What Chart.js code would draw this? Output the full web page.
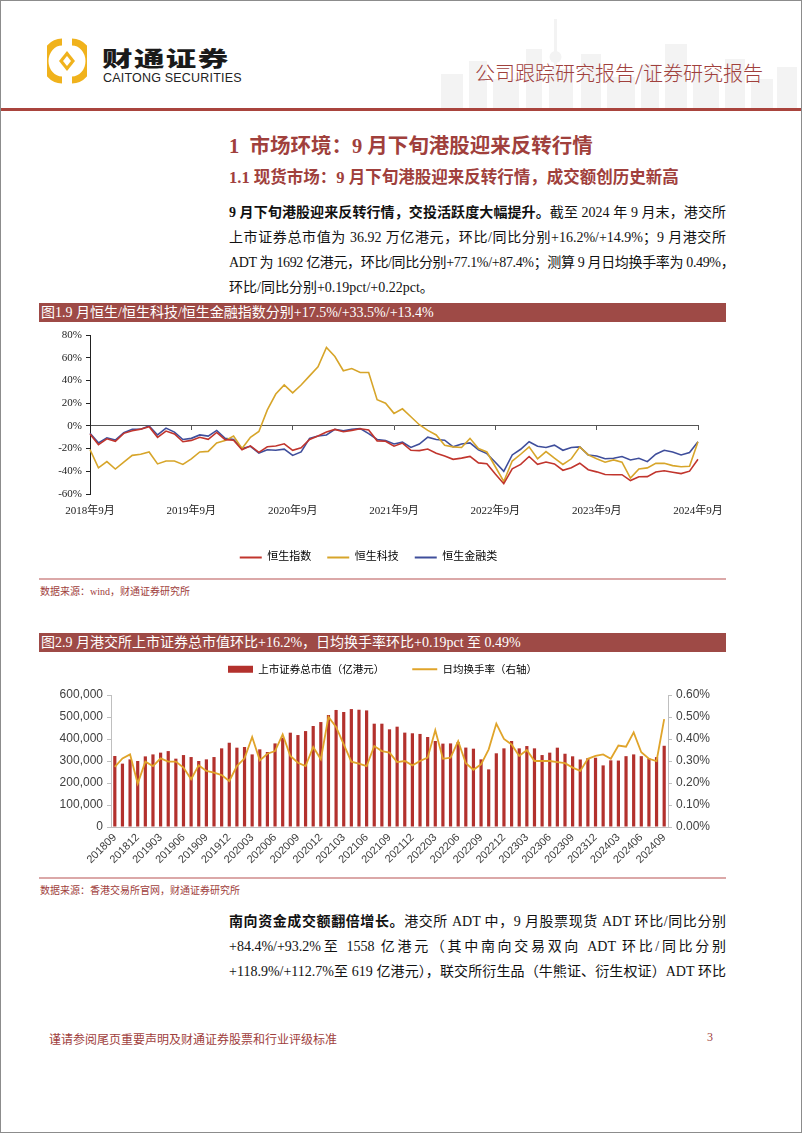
<!DOCTYPE html>
<html>
<head>
<meta charset="utf-8">
<script src="https://cdn.jsdelivr.net/npm/chart.js@4.4.1/dist/chart.umd.min.js"></script>
<style>
html, body { margin: 0; padding: 0; background: #fff; }
#page { position: relative; width: 800px; height: 1131px; border: 1px solid #8c8c8c; overflow: hidden;
  font-family: "Liberation Serif", "Noto Sans CJK SC", serif; color: #111; }
.a { position: absolute; }
.brand { left: 101px; top: 46px; font: 900 21px/1 "Noto Sans CJK SC", sans-serif; letter-spacing: 1px; color: #1a1a1a;
  transform: scaleX(1.45); transform-origin: left top; white-space: nowrap; }
.brand-en { left: 102px; top: 71px; font: 12.5px/1 "Liberation Sans", sans-serif; color: #222; letter-spacing: 0.2px; white-space: nowrap; }
.rtitle { left: 474px; top: 60px; font: 300 20px/1.2 "Noto Sans CJK SC", sans-serif; color: #a0403c; }
.redline { left: 0; top: 107px; width: 800px; height: 3px; background: #a9443d; }
.h1 { left: 228px; top: 128px; font: bold 20.5px "Liberation Serif", "Noto Sans CJK SC", serif; color: #a0403c; }
.h2 { left: 228px; top: 163px; font: bold 16.5px "Liberation Serif", "Noto Sans CJK SC", serif; color: #a0403c; }
.para { left: 228px; width: 497px; font-size: 14px; line-height: 25px; }
.para div { text-align: justify; text-align-last: justify; height: 25px; }
.para div.last { text-align-last: left; }
.para div.tight { white-space: nowrap; letter-spacing: -0.35px; }
.figbar { left: 38px; width: 685px; height: 19px; background: #9e4a46; color: #fff; font-size: 14px; line-height: 19px; padding-left: 2px; white-space: nowrap; }
.rule { left: 38px; width: 687px; height: 1.5px; background: #dba8a8; }
.src { left: 39px; font: 10px "Liberation Serif", "Noto Sans CJK SC", serif; color: #a0403c; }
.foot { left: 48px; top: 1029px; font: 12px "Liberation Serif", "Noto Sans CJK SC", serif; color: #a0403c; }
.pno { left: 706px; top: 1029px; font: 12px "Liberation Serif", serif; color: #a0403c; }
b { font-weight: bold; }
</style>
</head>
<body>
<div id="page">
  <svg class="a" style="left:430px;top:18px" width="370" height="89">
    <g fill="#f3f3f3">
      <rect x="10" y="55" width="22" height="34"/><rect x="38" y="42" width="18" height="47"/>
      <rect x="62" y="60" width="26" height="29"/><rect x="95" y="30" width="16" height="59"/>
      <rect x="118" y="50" width="24" height="39"/><rect x="123" y="0" width="3" height="50"/>
      <circle cx="124.5" cy="38" r="6"/><circle cx="124.5" cy="60" r="8"/>
      <rect x="150" y="35" width="20" height="54"/><rect x="176" y="58" width="28" height="31"/>
      <rect x="210" y="45" width="18" height="44"/><rect x="234" y="25" width="22" height="64"/>
      <rect x="262" y="52" width="26" height="37"/><rect x="294" y="40" width="20" height="49"/>
      <rect x="320" y="60" width="22" height="29"/><rect x="346" y="48" width="20" height="41"/>
    </g>
  </svg>
  <svg class="a" style="left:46px;top:37px" width="40" height="46" viewBox="0 0 40 46">
    <path d="M15 4 A17 19 0 0 0 15 42" stroke="#f0b21c" stroke-width="7" fill="none"/>
    <path d="M25 4 A17 19 0 0 1 25 42" stroke="#f0b21c" stroke-width="7" fill="none"/>
    <path d="M20 13 L28 23 L20 33 L12 23 Z" fill="#f0b21c"/>
    <path d="M20 18 L24 23 L20 28 L16 23 Z" fill="#fff"/>
  </svg>
  <div class="a brand">财通证券</div>
  <div class="a brand-en">CAITONG SECURITIES</div>
  <div class="a rtitle">公司跟踪研究报告/证券研究报告</div>
  <div class="a redline"></div>

  <div class="a h1">1&nbsp;&nbsp;市场环境：9 月下旬港股迎来反转行情</div>
  <div class="a h2">1.1 现货市场：9 月下旬港股迎来反转行情，成交额创历史新高</div>

  <div class="a para" style="top:199px">
    <div><b>9 月下旬港股迎来反转行情，交投活跃度大幅提升。</b>截至 2024 年 9 月末，港交所</div>
    <div>上市证券总市值为 36.92 万亿港元，环比/同比分别+16.2%/+14.9%；9 月港交所</div>
    <div class="tight">ADT 为 1692 亿港元，环比/同比分别+77.1%/+87.4%；测算 9 月日均换手率为 0.49%，</div>
    <div class="last">环比/同比分别+0.19pct/+0.22pct。</div>
  </div>

  <div class="a figbar" style="top:302px">图1.9 月恒生/恒生科技/恒生金融指数分别+17.5%/+33.5%/+13.4%</div>
  <div class="a" style="left:38px;top:322px;width:687px;height:243px"><canvas id="c1" width="687" height="243"></canvas></div>
  <div class="a rule" style="top:577px"></div>
  <div class="a src" style="top:582px">数据来源：wind，财通证券研究所</div>

  <div class="a figbar" style="top:632px">图2.9 月港交所上市证券总市值环比+16.2%，日均换手率环比+0.19pct 至 0.49%</div>
  <div class="a" style="left:38px;top:635px;width:687px;height:235px"><canvas id="c2" width="687" height="235"></canvas></div>
  <div class="a rule" style="top:876px"></div>
  <div class="a src" style="top:881px">数据来源：香港交易所官网，财通证券研究所</div>

  <div class="a para" style="top:908px">
    <div><b>南向资金成交额翻倍增长。</b>港交所 ADT 中，9 月股票现货 ADT 环比/同比分别</div>
    <div>+84.4%/+93.2%至 1558 亿港元（其中南向交易双向 ADT 环比/同比分别</div>
    <div>+118.9%/+112.7%至 619 亿港元），联交所衍生品（牛熊证、衍生权证）ADT 环比</div>
  </div>

  <div class="a foot">谨请参阅尾页重要声明及财通证券股票和行业评级标准</div>
  <div class="a pno">3</div>
</div>

<script>
const months = [
  '201809','201810','201811','201812',
  '201901','201902','201903','201904','201905','201906','201907','201908','201909','201910','201911','201912',
  '202001','202002','202003','202004','202005','202006','202007','202008','202009','202010','202011','202012',
  '202101','202102','202103','202104','202105','202106','202107','202108','202109','202110','202111','202112',
  '202201','202202','202203','202204','202205','202206','202207','202208','202209','202210','202211','202212',
  '202301','202302','202303','202304','202305','202306','202307','202308','202309','202310','202311','202312',
  '202401','202402','202403','202404','202405','202406','202407','202408','202409'
];
const yearTicks = ['2018年9月', '2019年9月', '2020年9月', '2021年9月', '2022年9月', '2023年9月', '2024年9月'];

// 指数累计涨跌幅（%）
const hsi = [-7.1, -16.5, -11.4, -13.6,
  -6.6, -4.3, -2.9, -0.7, -10.1, -4.6, -7.2, -14.0, -12.8, -10.1, -11.9, -5.8,
  -12.1, -12.7, -21.1, -17.6, -23.3, -18.4, -17.8, -15.8, -21.6, -19.4, -12.0, -9.0,
  -5.5, -3.1, -5.2, -4.0, -2.6, -3.6, -13.2, -13.5, -17.9, -15.2, -21.5, -21.8,
  -20.4, -24.1, -26.5, -29.5, -28.4, -26.9, -32.6, -33.3, -42.4, -50.9, -37.8, -33.9,
  -27.0, -33.9, -31.8, -33.5, -39.1, -36.8, -32.9, -38.6, -40.5, -42.8, -43.0, -43.0,
  -48.2, -44.8, -44.7, -40.6, -39.6, -40.8, -42.0, -39.9, -29.4];
const hstech = [-21, -37, -31.5, -38,
  -32, -26, -25, -23, -33.5, -31, -31, -34, -29, -23, -22.5, -15,
  -13, -9, -20, -10, -5, 14, 28, 36, 29, 36, 44, 52,
  69, 61, 48.5, 50.5, 47, 47, 23, 20, 11, 15, 8, 1,
  -4, -8, -17, -18.5, -19, -11, -20, -23, -36, -49, -31, -25,
  -18.5, -29, -22.6, -28.5, -34, -29, -18.5, -25.6, -29, -32, -30, -32,
  -46, -38, -37, -33, -33, -35, -36, -35.6, -14];
const hsfin = [-6.5, -15, -10.5, -12.5,
  -6, -3, -3, 0, -8, -2, -5.5, -12, -11, -8, -9, -4,
  -11, -12, -20, -18, -24, -21, -21.5, -20.5, -26, -23, -11, -9,
  -8, -3, -4.4, -3, -2.4, -6.8, -12, -13, -16, -14.4, -19, -16,
  -10, -12, -12.6, -18.5, -16, -15, -21, -24.4, -32, -40, -25.6, -20.6,
  -14, -18, -19, -17, -21.5, -19, -18.5, -25.6, -26.5, -29, -28.5, -27,
  -30, -28.5, -31.5, -25, -21.5, -23, -25.6, -23.5, -14];

// 上市证券总市值（亿港元）与日均换手率（%）
const mktCap = [322700, 288000, 307500, 300000,
  321000, 330000, 338000, 345000, 310600, 327000, 318000, 300000, 307500, 318000, 357500, 383000,
  360600, 363600, 330000, 353000, 341000, 380000, 406000, 428700, 418000, 436000, 459000, 477000,
  509000, 532000, 522700, 536000, 533000, 530000, 469600, 469600, 444000, 456000, 429000, 426000,
  423000, 409000, 391000, 379000, 380000, 386000, 361000, 356000, 307500, 262000, 335000, 357500,
  391000, 357500, 368000, 357500, 327000, 338000, 360600, 333000, 321300, 307000, 313000, 315000,
  280000, 303000, 302000, 322000, 330000, 322000, 312000, 317700, 369200];
const turnover = [0.273, 0.312, 0.330, 0.197,
  0.297, 0.277, 0.312, 0.297, 0.297, 0.270, 0.217, 0.280, 0.255, 0.247, 0.236, 0.209,
  0.277, 0.312, 0.409, 0.303, 0.333, 0.345, 0.421, 0.323, 0.292, 0.277, 0.364, 0.308,
  0.500, 0.455, 0.376, 0.297, 0.288, 0.277, 0.368, 0.345, 0.338, 0.295, 0.300, 0.280,
  0.300, 0.315, 0.440, 0.310, 0.315, 0.390, 0.290, 0.260, 0.285, 0.353, 0.470, 0.400,
  0.375, 0.323, 0.350, 0.300, 0.300, 0.300, 0.295, 0.290, 0.270, 0.255, 0.310, 0.323,
  0.330, 0.310, 0.370, 0.365, 0.430, 0.340, 0.310, 0.300, 0.490];

const RED = '#c1352d', GOLD = '#d7a52a', BLUE = '#3f4e9b';
const BAR = '#b3312d', TURN = '#e0a42a';
const serif = '"Liberation Serif", "Noto Sans CJK SC", serif';
const sans = '"Liberation Sans", "Noto Sans CJK SC", sans-serif';

function legendHeight(h) {
  return {
    id: 'legendHeight' + h,
    beforeInit(chart) {
      const fit = chart.legend.fit;
      chart.legend.fit = function () {
        fit.bind(chart.legend)();
        this.height = h;
      };
    }
  };
}

function lineItems(chart) {
  return chart.data.datasets.map((ds, i) => ({
    text: ds.label, datasetIndex: i, hidden: false,
    fillStyle: ds.borderColor, strokeStyle: ds.borderColor,
    lineWidth: 2, pointStyle: 'line'
  }));
}

new Chart(document.getElementById('c1'), {
  type: 'line',
  data: {
    labels: months,
    datasets: [
      { label: '恒生指数', data: hsi, borderColor: RED },
      { label: '恒生科技', data: hstech, borderColor: GOLD },
      { label: '恒生金融类', data: hsfin, borderColor: BLUE }
    ]
  },
  options: {
    responsive: false, animation: false, devicePixelRatio: 1,
    layout: { padding: { top: 12, right: 28, left: 0, bottom: 0 } },
    elements: { line: { borderWidth: 1.6, tension: 0 }, point: { radius: 0 } },
    plugins: {
      tooltip: { enabled: false },
      legend: {
        position: 'bottom',
        labels: {
          usePointStyle: true, pointStyleWidth: 22, padding: 16,
          color: '#333', font: { family: serif, size: 11 },
          generateLabels: lineItems
        }
      }
    },
    scales: {
      x: {
        offset: false,
        border: { display: false },
        grid: { display: false },
        ticks: {
          autoSkip: false, maxRotation: 0, minRotation: 0, padding: 3,
          color: '#222', font: { family: serif, size: 11 },
          callback: (v, i) => (i % 12 === 0 ? yearTicks[i / 12] : '')
        },
        afterFit: s => { s.height = 42; }
      },
      x2: {
        type: 'category', position: { y: 0 }, offset: false,
        border: { display: true, color: '#555', width: 1 },
        grid: {
          drawOnChartArea: false, drawTicks: true, tickLength: 4,
          tickColor: c => (c.index % 12 === 0 ? '#555' : 'rgba(0,0,0,0)')
        },
        ticks: { display: false, autoSkip: false }
      },
      y: {
        min: -60, max: 80,
        border: { display: true, color: '#222', width: 1 },
        grid: { drawOnChartArea: false, drawTicks: true, tickLength: 4, tickColor: '#222' },
        ticks: { stepSize: 20, padding: 4, color: '#222', font: { family: serif, size: 11 }, callback: v => v + '%' },
        afterFit: s => { s.width = 51; }
      }
    }
  },
  plugins: [legendHeight(30)]
});

new Chart(document.getElementById('c2'), {
  type: 'bar',
  data: {
    labels: months,
    datasets: [
      { type: 'bar', label: '上市证券总市值（亿港元）', data: mktCap, backgroundColor: BAR,
        yAxisID: 'y', barPercentage: 0.42, categoryPercentage: 1, order: 2 },
      { type: 'line', label: '日均换手率（右轴）', data: turnover, borderColor: TURN,
        borderWidth: 1.8, pointRadius: 0, tension: 0, yAxisID: 'y1', order: 1 }
    ]
  },
  options: {
    responsive: false, animation: false, devicePixelRatio: 1,
    layout: { padding: 0 },
    plugins: {
      tooltip: { enabled: false },
      legend: {
        position: 'top',
        labels: {
          usePointStyle: true, pointStyleWidth: 25, boxHeight: 7, padding: 28,
          color: '#404040', font: { family: '"Noto Sans CJK SC", sans-serif', size: 10.5 },
          generateLabels: chart => [
            { text: chart.data.datasets[0].label, datasetIndex: 0, hidden: false,
              fillStyle: BAR, strokeStyle: BAR, lineWidth: 0, pointStyle: 'rect' },
            { text: chart.data.datasets[1].label, datasetIndex: 1, hidden: false,
              fillStyle: TURN, strokeStyle: TURN, lineWidth: 2, pointStyle: 'line' }
          ]
        }
      }
    },
    scales: {
      x: {
        offset: true,
        border: { display: true, color: '#bfbfbf' },
        grid: { display: true, drawOnChartArea: false, drawTicks: false },
        ticks: {
          autoSkip: false, minRotation: 45, maxRotation: 45, padding: 4,
          color: '#404040', font: { family: sans, size: 11 },
          callback: (v, i) => (i % 3 === 0 ? months[i] : '')
        },
        afterFit: s => { s.height = 44; }
      },
      y: {
        position: 'left', min: 0, max: 600000,
        border: { display: true, color: '#bfbfbf' },
        grid: { drawOnChartArea: false, drawTicks: true, tickLength: 4, tickColor: '#bfbfbf' },
        ticks: { stepSize: 100000, padding: 4, color: '#404040', font: { family: sans, size: 12 },
          callback: v => v.toLocaleString('en-US') },
        afterFit: s => { s.width = 72; }
      },
      y1: {
        position: 'right', min: 0, max: 0.6,
        border: { display: true, color: '#bfbfbf' },
        grid: { drawOnChartArea: false, drawTicks: true, tickLength: 4, tickColor: '#bfbfbf' },
        ticks: { stepSize: 0.1, padding: 4, color: '#404040', font: { family: sans, size: 12 },
          callback: v => v.toFixed(2) + '%' },
        afterFit: s => { s.width = 58; }
      }
    }
  },
  plugins: [legendHeight(59)]
});
</script>
</body>
</html>
